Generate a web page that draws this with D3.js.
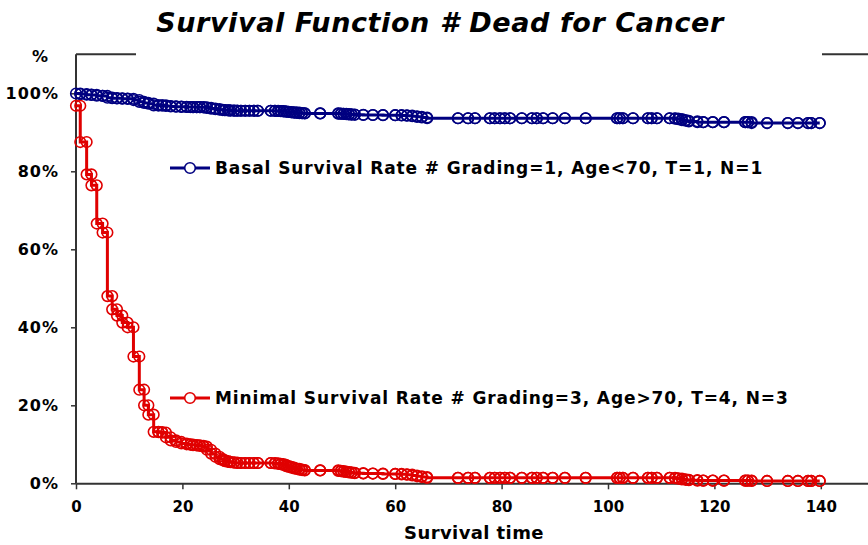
<!DOCTYPE html>
<html>
<head>
<meta charset="utf-8">
<script src="https://cdn.jsdelivr.net/npm/d3@7"></script>
<style>
	body { margin: 0; background: #fff; }
	text { font-family: "DejaVu Sans", Verdana, sans-serif; font-weight: bold; }
</style>
</head>
<body>
<svg id="chart" width="868" height="545"></svg>
<script>
// event times (shared by both curves)
const times = [
	0, 0.8, 2.0, 2.9, 3.9, 5.0, 5.9, 6.8, 7.7, 8.7,
	9.7, 10.8, 11.9, 12.8, 13.6, 14.6, 15.5, 16.2, 16.9, 17.8,
	18.8, 19.8, 20.8, 21.5, 22.0, 22.7, 23.3, 24.0, 24.6, 25.4,
	26.2, 27.0, 27.6, 28.0, 28.6, 29.0, 29.7, 30.3, 31.0, 31.8,
	32.6, 33.4, 34.2, 36.6, 37.4, 38.0, 38.5, 39.0, 39.5, 40.0,
	40.5, 41.0, 41.5, 42.0, 42.5, 43.0, 45.9, 49.3, 49.8, 50.3,
	50.8, 51.3, 51.8, 52.4, 54.0, 55.8, 57.7, 60.0, 61.2, 62.2,
	63.2, 64.1, 65.0, 66.0, 71.8, 73.7, 75.0, 77.8, 78.7, 79.7,
	80.6, 81.6, 83.8, 85.7, 86.6, 87.8, 89.6, 91.9, 95.8, 101.7,
	102.2, 102.8, 104.7, 107.5, 108.2, 109.2, 111.6, 112.6, 113.2, 113.9,
	114.6, 115.2, 116.8, 117.9, 119.7, 121.8, 125.8, 126.3, 127.0, 129.9,
	133.8, 135.7, 137.6, 138.2, 139.8
];

// Basal Survival Rate (%)
const basal = [
	99.95, 99.79, 99.64, 99.58, 99.37, 99.32, 98.87, 98.76, 98.70, 98.63,
	98.59, 98.27, 97.81, 97.54, 97.34, 96.91, 96.90, 96.89, 96.74, 96.64,
	96.58, 96.52, 96.49, 96.48, 96.46, 96.45, 96.43, 96.40, 96.27, 96.08,
	95.92, 95.78, 95.71, 95.66, 95.60, 95.58, 95.55, 95.52, 95.52, 95.52,
	95.52, 95.52, 95.52, 95.52, 95.49, 95.46, 95.43, 95.37, 95.27, 95.20,
	95.13, 95.06, 95.02, 94.93, 94.89, 94.85, 94.85, 94.80, 94.76, 94.71,
	94.66, 94.61, 94.55, 94.50, 94.44, 94.44, 94.38, 94.38, 94.32, 94.25,
	94.12, 93.96, 93.79, 93.60, 93.60, 93.60, 93.60, 93.60, 93.60, 93.60,
	93.60, 93.60, 93.60, 93.60, 93.60, 93.60, 93.60, 93.60, 93.60, 93.60,
	93.60, 93.60, 93.60, 93.60, 93.60, 93.60, 93.60, 93.49, 93.37, 93.11,
	92.96, 92.79, 92.60, 92.60, 92.60, 92.60, 92.60, 92.60, 92.37, 92.37,
	92.37, 92.37, 92.37, 92.37, 92.37
];

// Minimal Survival Rate (%)
const minimal = [
	96.8, 87.5, 79.2, 76.4, 66.6, 64.3, 48.0, 44.6, 43.0, 41.2,
	40.0, 32.5, 24.0, 20.0, 17.6, 13.2, 13.1, 13.0, 11.8, 11.0,
	10.6, 10.2, 10.0, 9.9, 9.8, 9.7, 9.6, 9.4, 8.6, 7.6,
	6.8, 6.2, 5.9, 5.7, 5.5, 5.4, 5.3, 5.2, 5.2, 5.2,
	5.2, 5.2, 5.2, 5.2, 5.1, 5.0, 4.9, 4.7, 4.4, 4.2,
	4.0, 3.8, 3.7, 3.5, 3.4, 3.3, 3.3, 3.2, 3.1, 3.0,
	2.9, 2.8, 2.7, 2.6, 2.5, 2.5, 2.4, 2.4, 2.3, 2.2,
	2.0, 1.8, 1.6, 1.4, 1.4, 1.4, 1.4, 1.4, 1.4, 1.4,
	1.4, 1.4, 1.4, 1.4, 1.4, 1.4, 1.4, 1.4, 1.4, 1.4,
	1.4, 1.4, 1.4, 1.4, 1.4, 1.4, 1.4, 1.3, 1.2, 1.0,
	0.9, 0.8, 0.7, 0.7, 0.7, 0.7, 0.7, 0.7, 0.6, 0.6,
	0.6, 0.6, 0.6, 0.6, 0.6
];

const xTicks = [0, 20, 40, 60, 80, 100, 120, 140];
const yTicks = [0, 20, 40, 60, 80, 100];

const series = [
	{name: "Basal Survival Rate # Grading=1, Age<70, T=1, N=1", values: basal, color: "#000080", ly: 168},
	{name: "Minimal Survival Rate # Grading=3, Age>70, T=4, N=3", values: minimal, color: "#e00000", ly: 398}
];

const svg = d3.select("#chart");
const x = d3.scaleLinear().domain([0, 150]).range([76, 874]);
const y = d3.scaleLinear().domain([0, 110]).range([483.3, 54.3]);

// title
svg.append("text")
	.attr("x", 440).attr("y", 32)
	.attr("text-anchor", "middle")
	.style("font-size", "27px").style("font-style", "italic").style("letter-spacing", "0.6px")
	.text("Survival Function # Dead for Cancer");

// frame bits at the top
svg.append("line").attr("x1", 76).attr("x2", 136).attr("y1", 54.3).attr("y2", 54.3)
	.attr("stroke", "#333").attr("stroke-width", 2);
svg.append("line").attr("x1", 822).attr("x2", 868).attr("y1", 54.3).attr("y2", 54.3)
	.attr("stroke", "#333").attr("stroke-width", 2);

// axes
const xAxis = d3.axisBottom(x).tickValues(xTicks).tickSize(6).tickSizeOuter(0).tickPadding(12);
const yAxis = d3.axisLeft(y).tickValues(yTicks).tickSize(5).tickSizeOuter(0).tickPadding(12)
	.tickFormat(d => d + "%");

const gx = svg.append("g").attr("transform", "translate(0," + y(0) + ")").call(xAxis);
const gy = svg.append("g").attr("transform", "translate(" + x(0) + ",0)").call(yAxis);
[gx, gy].forEach(g => {
	g.select(".domain").attr("stroke", "#333").attr("stroke-width", 2);
	g.selectAll(".tick line").attr("stroke", "#333").attr("stroke-width", 1.5);
	g.selectAll(".tick text").style("font-size", "15px").style("font-family", "DejaVu Sans").style("font-weight", "bold").attr("fill", "#000");
});
gy.selectAll(".tick text").style("font-size", "16px").style("letter-spacing", "1px");
gy.select(".domain").attr("d", "M0," + y(110) + "V" + y(0));

svg.append("text").attr("x", 40).attr("y", 62).attr("text-anchor", "middle")
	.style("font-size", "16px").text("%");

svg.append("text").attr("x", 474).attr("y", 539).attr("text-anchor", "middle")
	.style("font-size", "18px").style("letter-spacing", "0.4px").text("Survival time");

// step curves with a marker on every corner
series.forEach(s => {
	const pts = [];
	times.forEach((t, i) => {
		if (i > 0) pts.push([t, s.values[i - 1]]);
		pts.push([t, s.values[i]]);
	});
	const line = d3.line().x(d => x(d[0])).y(d => y(d[1]));
	svg.append("path").datum(pts)
		.attr("d", line)
		.attr("fill", "none").attr("stroke", s.color).attr("stroke-width", 3);
	svg.append("g").selectAll("circle").data(pts).enter().append("circle")
		.attr("cx", d => x(d[0])).attr("cy", d => y(d[1])).attr("r", 5.3)
		.attr("fill", "none").attr("stroke", s.color).attr("stroke-width", 1.6);

	// legend entry
	svg.append("line").attr("x1", 170).attr("x2", 210).attr("y1", s.ly).attr("y2", s.ly)
		.attr("stroke", s.color).attr("stroke-width", 3);
	svg.append("circle").attr("cx", 190).attr("cy", s.ly).attr("r", 5.3)
		.attr("fill", "#fff").attr("stroke", s.color).attr("stroke-width", 1.6);
	svg.append("text").attr("x", 215).attr("y", s.ly + 6)
		.style("font-size", "17px").style("letter-spacing", "0.9px").text(s.name);
});
</script>
</body>
</html>
